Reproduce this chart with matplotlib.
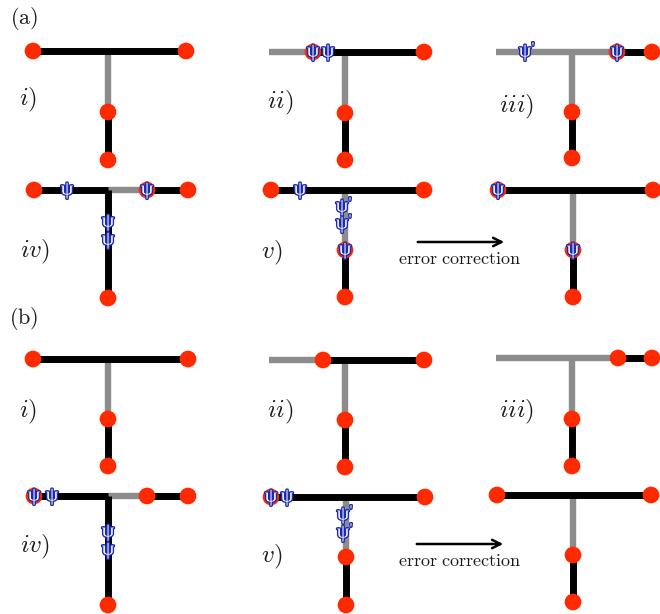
import matplotlib
matplotlib.use("Agg")
import matplotlib.pyplot as plt
import matplotlib.patheffects as pe

plt.rcParams['mathtext.fontset'] = 'cm'

# ---- diagram data (pixel coordinates of the schematic) ----
black_segments = [
    # (a) i
    (33, 51, 186, 51), (108, 112, 108, 160),
    # (a) ii
    (313, 52, 424, 52), (345, 113, 345, 160),
    # (a) iii
    (617, 52, 655, 52), (572, 112, 572, 158),
    # (a) iv
    (34, 190, 108, 190), (140, 190, 188, 190), (108, 190, 108, 298),
    # (a) v
    (271, 190, 424, 190), (345, 250, 345, 297),
    # (a) corrected
    (498, 190, 655, 190), (573, 250, 573, 297),
    # (b) i
    (33, 359, 188, 359), (108, 419, 108, 466),
    # (b) ii
    (323, 360, 424, 360), (345, 420, 345, 467),
    # (b) iii
    (618, 358, 655, 358), (572, 419, 572, 466),
    # (b) iv
    (34, 496, 108, 496), (140, 496, 188, 496), (108, 496, 108, 605),
    # (b) v
    (271, 497, 425, 497), (346, 557, 346, 605),
    # (b) corrected
    (497, 495, 651, 495), (573, 555, 573, 602),
]
gray_segments = [
    (108, 51, 108, 112),
    (269, 52, 313, 52), (345, 52, 345, 113),
    (496, 52, 617, 52), (572, 52, 572, 112),
    (108, 190, 140, 190),
    (345, 190, 345, 250),
    (573, 190, 573, 250),
    (108, 359, 108, 419),
    (269, 360, 323, 360), (345, 360, 345, 420),
    (496, 358, 618, 358), (572, 358, 572, 419),
    (108, 496, 140, 496),
    (346, 497, 346, 557),
    (573, 495, 573, 555),
]
dots_x = [33, 186, 108, 108,
          313, 424, 345, 345,
          617, 652, 572, 572,
          34, 188, 147, 108,
          271, 424, 345, 345,
          498, 653, 573, 573,
          33, 188, 108, 108,
          323, 424, 345, 345,
          618, 652, 572, 572,
          34, 147, 188, 108,
          271, 425, 346, 346,
          497, 651, 573, 573]
dots_y = [51, 51, 112, 160,
          52, 52, 113, 160,
          52, 52, 112, 158,
          190, 190, 190, 298,
          190, 190, 250, 297,
          190, 190, 250, 297,
          359, 359, 419, 466,
          360, 360, 420, 467,
          358, 358, 419, 466,
          496, 496, 496, 605,
          497, 497, 557, 605,
          495, 495, 555, 602]
psi_x = [313, 328, 617, 67, 147, 108, 108, 300, 345, 498, 573,
         34, 52, 108, 108, 271, 287]
psi_y = [52, 52, 52, 190, 190, 222, 240, 190, 250, 190, 250,
         496, 496, 532, 550, 497, 497]
psip_x = [528, 345, 345, 346, 346]
psip_y = [52, 207, 224, 515, 533]
step_labels = ['$i)$', '$ii)$', '$iii)$', '$iv)$', '$v)$',
               '$i)$', '$ii)$', '$iii)$', '$iv)$', '$v)$']
step_x = [28, 280, 517, 35, 272, 28, 280, 517, 35, 272]
step_y = [100, 103, 107, 252, 253, 412, 412, 412, 547, 557]
panel_labels = [r'$\mathrm{(a)}$', r'$\mathrm{(b)}$']
panel_x = [24, 24]
panel_y = [18, 318]
arrows = [(415, 242, 507, 242), (414, 544, 506, 544)]
arrow_text_x = [460, 460]
arrow_text_y = [259, 561]

RED = '#FF2A00'
GRAY = '#8C8C8C'
BLUE = '#1C2AB0'
TXT = '#1a1a1a'

fig = plt.figure(figsize=(6.6, 6.14), dpi=100)
ax = fig.add_axes([0, 0, 1, 1])
ax.set_xlim(0, 660)
ax.set_ylim(614, 0)
ax.axis('off')

for x0, y0, x1, y1 in gray_segments:
    ax.plot([x0, x1], [y0, y1], color=GRAY, lw=4.6, solid_capstyle='butt', zorder=1)
for x0, y0, x1, y1 in black_segments:
    ax.plot([x0, x1], [y0, y1], color='black', lw=5.0, solid_capstyle='butt', zorder=2)

ax.scatter(dots_x, dots_y, s=145, color=RED, edgecolors='none', zorder=3)

stroke = [pe.withStroke(linewidth=2.0, foreground=BLUE)]
for x, y in zip(psi_x, psi_y):
    ax.text(x, y, 'ψ', color='white', fontsize=14, ha='center', va='center',
            family='Liberation Serif', path_effects=stroke, zorder=4)
for x, y in zip(psip_x, psip_y):
    ax.text(x - 3, y, 'ψ', color='white', fontsize=14, ha='center', va='center',
            family='Liberation Serif', path_effects=stroke, zorder=4)
    ax.text(x + 5, y - 4, "'", color='white', fontsize=10, ha='center', va='center',
            family='Liberation Serif', path_effects=stroke, zorder=4)

for lab, x, y in zip(step_labels, step_x, step_y):
    ax.text(x, y, lab, fontsize=18, ha='center', va='center', color=TXT)
for lab, x, y in zip(panel_labels, panel_x, panel_y):
    ax.text(x, y, lab, fontsize=16, ha='center', va='center', color=TXT)

for (x0, y0, x1, y1), tx, ty in zip(arrows, arrow_text_x, arrow_text_y):
    ax.annotate('', xy=(x1, y1), xytext=(x0, y0),
                arrowprops=dict(arrowstyle='->', lw=1.8, color='black',
                                mutation_scale=15))
    ax.text(tx, ty, r'$\mathrm{error\ correction}$', fontsize=13,
            ha='center', va='center', color=TXT)

fig.savefig('out.png', dpi=100)
